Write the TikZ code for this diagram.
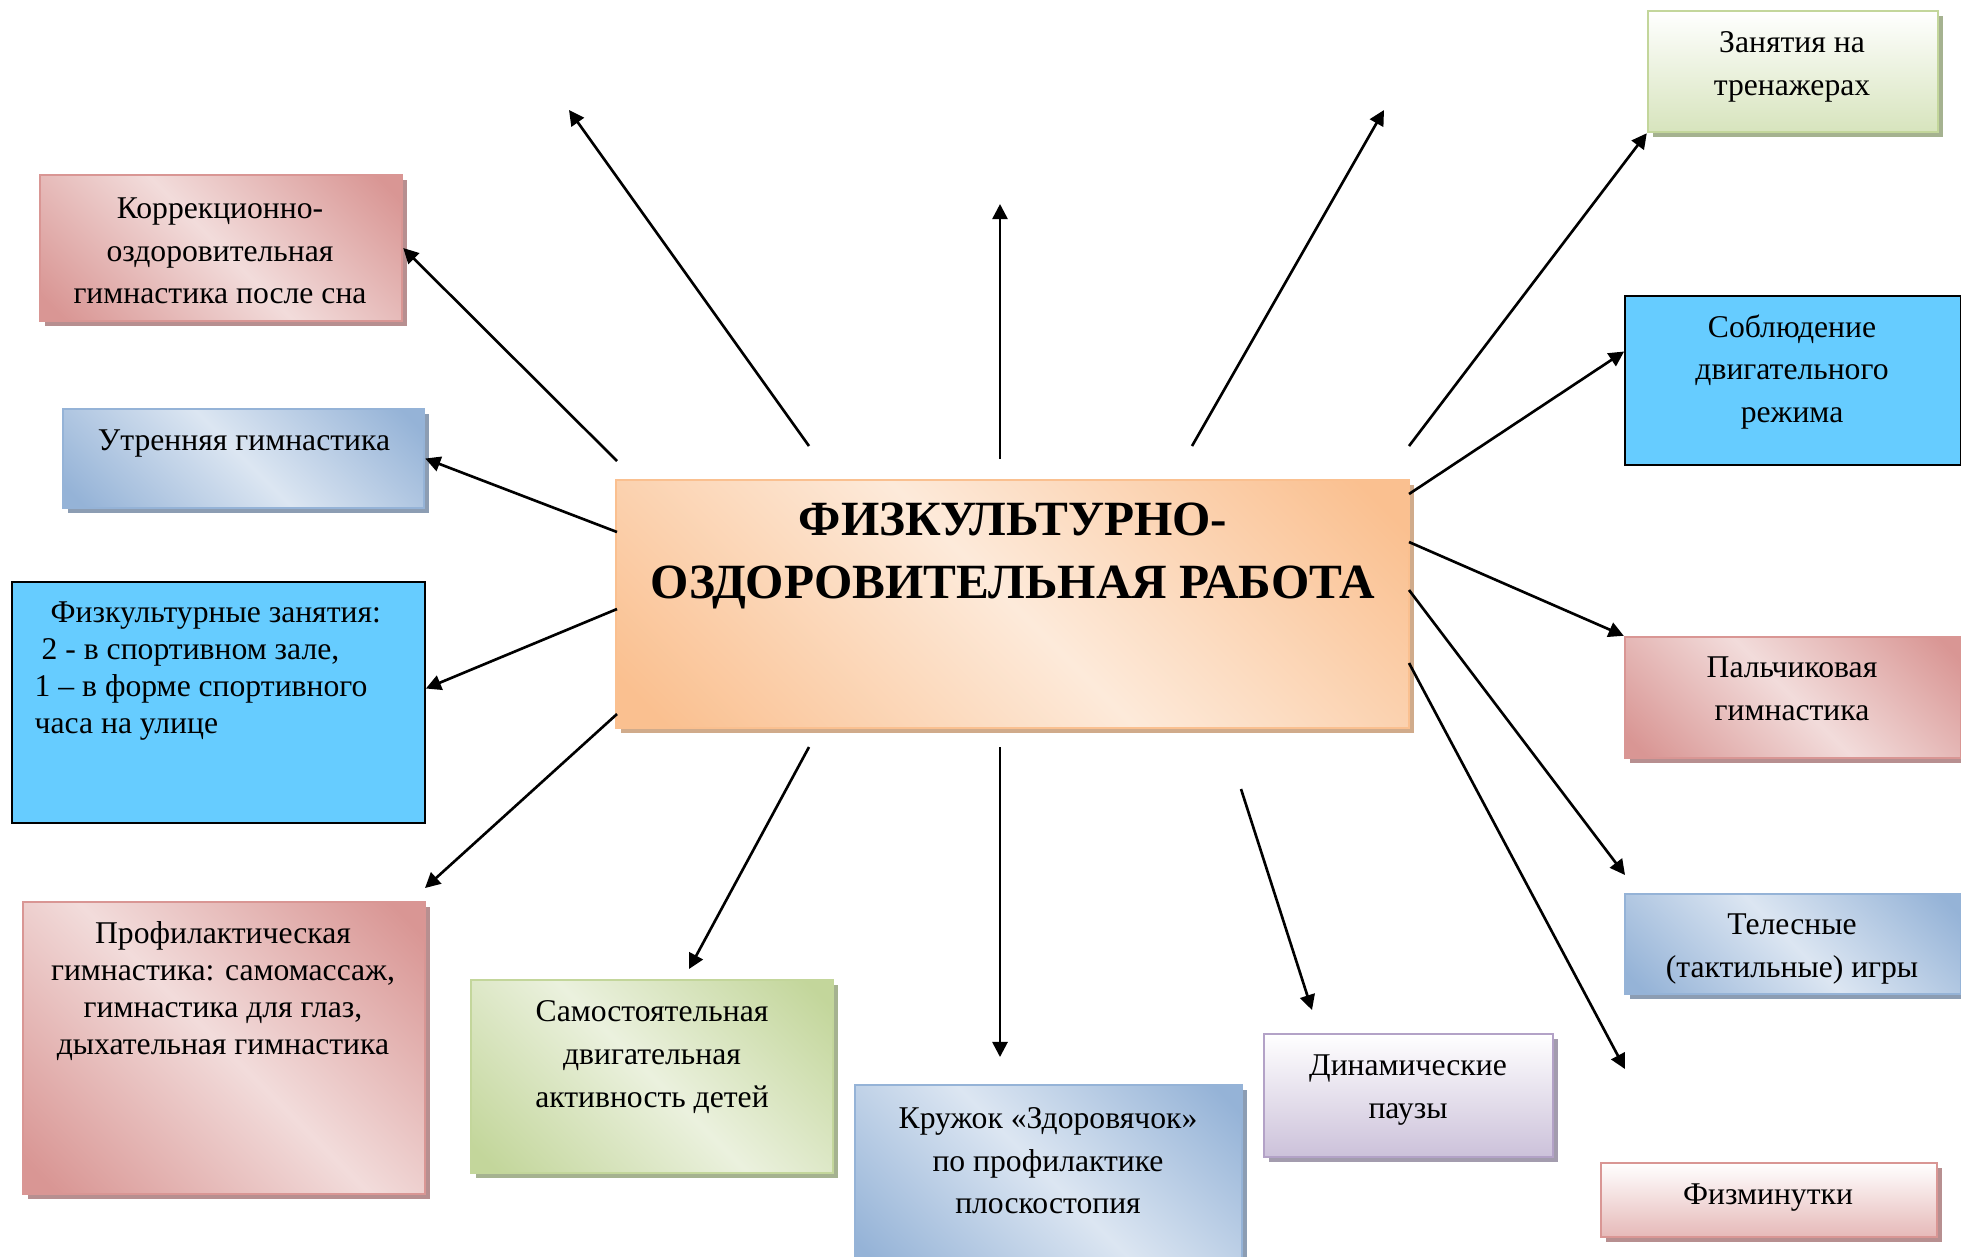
\documentclass[tikz,border=0pt]{standalone}
\usepackage{fontspec}
\setmainfont{Liberation Serif}
\usetikzlibrary{arrows.meta,shadows,fit}

\definecolor{reddark}{HTML}{D99694}
\definecolor{redlight}{HTML}{F2DCDB}
\definecolor{redshade}{HTML}{B78F90}
\definecolor{redfoot}{HTML}{E6B9B8}
\definecolor{bluedark}{HTML}{95B3D7}
\definecolor{bluelight}{HTML}{DCE6F2}
\definecolor{blueshade}{HTML}{8C9DB3}
\definecolor{greendark}{HTML}{C3D69B}
\definecolor{greenlight}{HTML}{EBF1DE}
\definecolor{greenshade}{HTML}{A5B290}
\definecolor{greenfoot}{HTML}{D7E4BD}
\definecolor{orangedark}{HTML}{FAC090}
\definecolor{orangelight}{HTML}{FDEADA}
\definecolor{orangeshade}{HTML}{D0AB8B}
\definecolor{purplefoot}{HTML}{CCC1DA}
\definecolor{purpleline}{HTML}{B3A2C7}
\definecolor{purpleshade}{HTML}{A39CAE}
\definecolor{skyfill}{HTML}{66CCFF}

\pgfdeclarehorizontalshading{redmirror}{100bp}{color(0bp)=(reddark); color(18bp)=(reddark); color(50bp)=(redlight); color(82bp)=(reddark); color(100bp)=(reddark)}
\pgfdeclarehorizontalshading{bluemirror}{100bp}{color(0bp)=(bluedark); color(18bp)=(bluedark); color(50bp)=(bluelight); color(82bp)=(bluedark); color(100bp)=(bluedark)}
\pgfdeclarehorizontalshading{greenmirror}{100bp}{color(0bp)=(greendark); color(18bp)=(greendark); color(50bp)=(greenlight); color(82bp)=(greendark); color(100bp)=(greendark)}
\pgfdeclarehorizontalshading{orangemirror}{100bp}{color(0bp)=(orangedark); color(18bp)=(orangedark); color(50bp)=(orangelight); color(82bp)=(orangedark); color(100bp)=(orangedark)}

\begin{document}
\begin{tikzpicture}[x=0.01cm,y=-0.01cm]
	\tikzset{box/.style = {inner sep=0pt, line width=0.7pt}}
	\tikzset{boxshadow/.style = {drop shadow={shadow xshift=0.045cm, shadow yshift=-0.045cm, fill=#1, opacity=1}}}
	\tikzset{redbox/.style = {box, draw=reddark, shading=redmirror, shading angle=45, boxshadow=redshade}}
	\tikzset{bluebox/.style = {box, draw=bluedark, shading=bluemirror, shading angle=45, boxshadow=blueshade}}
	\tikzset{greenbox/.style = {box, draw=greendark, shading=greenmirror, shading angle=45, boxshadow=greenshade}}
	\tikzset{orangebox/.style = {box, draw=orangedark, shading=orangemirror, shading angle=45, boxshadow=orangeshade}}
	\tikzset{greentop/.style = {box, draw=greendark, top color=white, bottom color=greenfoot, boxshadow=greenshade}}
	\tikzset{redtop/.style = {box, draw=reddark, top color=white, bottom color=redfoot, boxshadow=redshade}}
	\tikzset{purpletop/.style = {box, draw=purpleline, top color=white, bottom color=purplefoot, boxshadow=purpleshade}}
	\tikzset{skybox/.style = {box, draw=black, line width=0.5pt, fill=skyfill}}
	\tikzset{txt/.style = {align=center, inner sep=0pt, font=\fontsize{9}{12.1}\selectfont}}
	\tikzset{txtdense/.style = {txt, font=\fontsize{9}{10.6}\selectfont}}
	\tikzset{headline/.style = {align=center, inner sep=0pt, font=\fontsize{14}{17.8}\selectfont\bfseries}}
	\tikzset{pointer/.style = {draw, line width=0.75pt, -{Triangle[length=4.3pt,width=4.3pt]}}}
	\useasboundingbox (0,0) rectangle (1961,1256);
	% boxes
	\node[greentop, fit={(1648,11) (1938,132)}] (zan) {};
	\node[redbox, fit={(40,175) (402,321)}] (korr) {};
	\node[skybox, fit={(1625,296) (1961,465)}] (sobl) {};
	\node[bluebox, fit={(63,409) (424,508)}] (utr) {};
	\node[orangebox, fit={(616,480) (1409,728)}] (main) {};
	\node[skybox, fit={(12,582) (425,823)}] (fiz) {};
	\node[redbox, fit={(1625,637) (1961,758)}] (palch) {};
	\node[bluebox, fit={(1625,894) (1961,994)}] (teles) {};
	\node[redbox, fit={(23,902) (425,1194)}] (prof) {};
	\node[greenbox, fit={(471,980) (833,1173)}] (samo) {};
	\node[bluebox, fit={(855,1085) (1242,1270)}] (kruzh) {};
	\node[purpletop, fit={(1264,1034) (1553,1157)}] (dinam) {};
	\node[redtop, fit={(1601,1163) (1937,1237)}] (fizm) {};
	% texts
	\node[txt] (zan-t) at (1792,67) {Занятия на\\тренажерах};
	\node[txt] (korr-t) at (220,251) {Коррекционно-\\оздоровительная\\гимнастика после сна};
	\node[txt] (sobl-t) at (1792,372) {Соблюдение\\двигательного\\режима};
	\node[txt] (utr-t) at (244,443) {Утренняя гимнастика};
	\node[headline] (main-t) at (1013,556) {ФИЗКУЛЬТУРНО-\\ОЗДОРОВИТЕЛЬНАЯ РАБОТА};
	\node[txtdense, align=left, anchor=west] (fiz-t) at (34,671) {\hspace*{0.16cm}Физкультурные занятия:\\\hspace*{0.07cm}2 - в спортивном зале,\\1 – в форме спортивного\\часа на улице};
	\node[txt] (palch-t) at (1792,689) {Пальчиковая\\гимнастика};
	\node[txt] (teles-t) at (1792,949) {Телесные\\(тактильные) игры};
	\node[txtdense] (prof-t) at (223,991) {Профилактическая\\гимнастика: самомассаж,\\гимнастика для глаз,\\дыхательная гимнастика};
	\node[txt] (samo-t) at (652,1057) {Самостоятельная\\двигательная\\активность детей};
	\node[txt] (kruzh-t) at (1048,1161) {Кружок «Здоровячок»\\по профилактике\\плоскостопия};
	\node[txt] (dinam-t) at (1408,1090) {Динамические\\паузы};
	\node[txt] (fizm-t) at (1768,1198) {Физминутки};
	% arrow ends
	\coordinate (s1) at (617,461);
	\coordinate (s2) at (809,446);
	\coordinate (s3) at (1000,459);
	\coordinate (s4) at (1192,446);
	\coordinate (s5) at (1409,446);
	\coordinate (s6) at (1409,494);
	\coordinate (s7) at (617,532);
	\coordinate (s8) at (617,609);
	\coordinate (s9) at (1409,542);
	\coordinate (s10) at (1409,590);
	\coordinate (s11) at (1409,663);
	\coordinate (s12) at (617,714);
	\coordinate (s13) at (809,747);
	\coordinate (s14) at (1000,747);
	\coordinate (s15) at (1241,789);
	\coordinate (e2) at (569,110);
	\coordinate (e3) at (1000,204);
	\coordinate (e4) at (1384,110);
	\coordinate (e10) at (1625,875);
	\coordinate (e11) at (1625,1069);
	\coordinate (e12) at (425,888);
	\coordinate (e13) at (689,969);
	\coordinate (e14) at (1000,1057);
	\coordinate (e15) at (1312,1010);
	% arrows
	\path (s1) edge[pointer] (korr.east);
	\path (s2) edge[pointer] (e2);
	\path (s3) edge[pointer] (e3);
	\path (s4) edge[pointer] (e4);
	\path (s5) edge[pointer] (zan.south west);
	\path (s6) edge[pointer] ([yshift=0.29cm]sobl.west);
	\path (s7) edge[pointer] (utr.east);
	\path (s8) edge[pointer] ([yshift=0.14cm]fiz.east);
	\path (s9) edge[pointer] (palch.north west);
	\path (s10) edge[pointer] (e10);
	\path (s11) edge[pointer] (e11);
	\path (s12) edge[pointer] (e12);
	\path (s13) edge[pointer] (e13);
	\path (s14) edge[pointer] (e14);
	\path (s15) edge[pointer] (e15);
\end{tikzpicture}
\end{document}
